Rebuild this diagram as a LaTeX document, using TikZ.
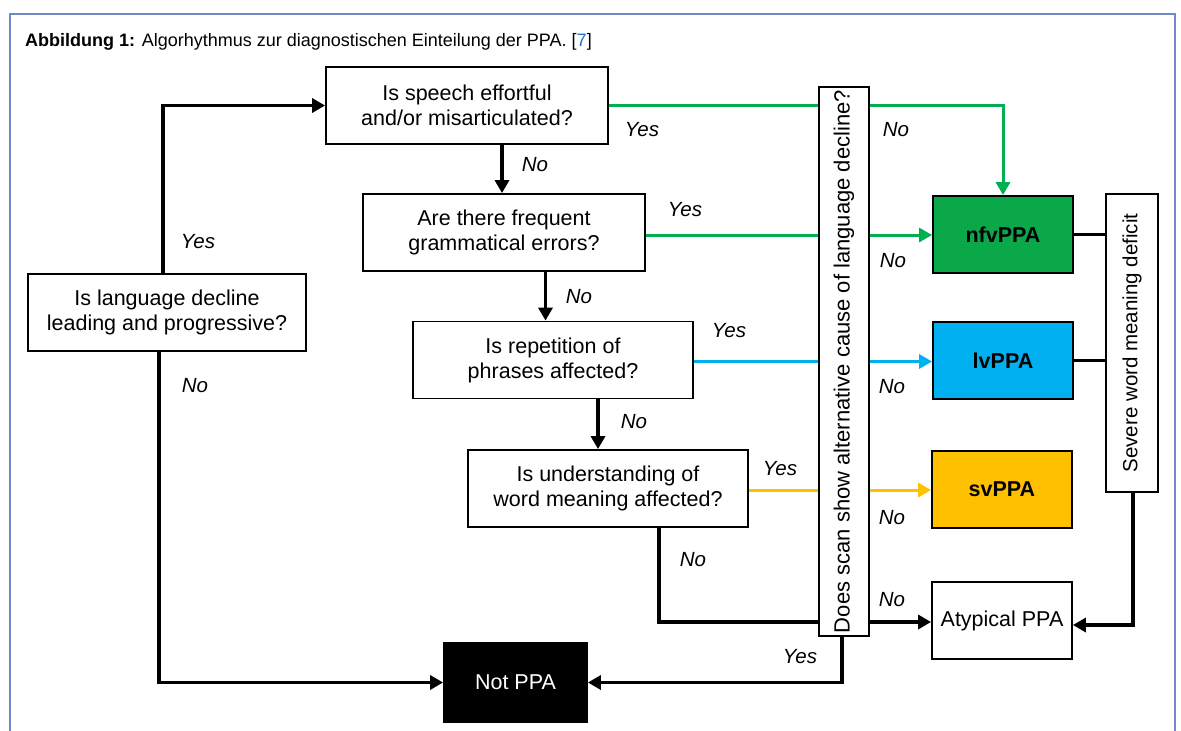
\documentclass[tikz,border=0pt]{standalone}
\usepackage{fontspec}
\setmainfont{Liberation Sans}
\usetikzlibrary{arrows.meta}
\definecolor{framecol}{HTML}{7289C9}
\definecolor{cgreen}{HTML}{00B050}
\definecolor{cgreenfill}{HTML}{0BA84A}
\definecolor{cblue}{HTML}{00B0F0}
\definecolor{cyellow}{HTML}{FFC000}
\definecolor{linkblue}{HTML}{1F6FD1}
\begin{document}
\begin{tikzpicture}[x=1pt,y=-1pt,
  box/.style={draw, line width=1.8pt, fill=white, inner sep=0pt, align=center,
    font=\fontsize{21.5}{25}\selectfont, minimum width=280pt, minimum height=77pt},
  res/.style={box, minimum width=140pt, minimum height=77pt},
  vbox/.style={draw, line width=1.8pt, fill=white, inner sep=0pt},
  lab/.style={font=\fontsize{20.5}{24}\selectfont\itshape, inner sep=0pt},
  blk/.style={line width=3.6pt, -{Triangle[length=13pt,width=14pt]}},
  blkline/.style={line width=3.6pt},
  col/.style={line width=3pt, -{Triangle[length=13pt,width=14pt]}},
  colline/.style={line width=3pt}
]
\useasboundingbox (0,0) rectangle (1181,731);
\draw[framecol, line width=1.3pt] (10,731) -- (10,14) -- (1175,14) -- (1175,731);
\node[anchor=base west, inner sep=0pt, font=\fontsize{18}{21}\selectfont] (cap) at (25,46)
  {\textbf{Abbildung 1:} Algorhythmus zur diagnostischen Einteilung der PPA. [\textcolor{linkblue}{7}]};

% question boxes
\node[box, minimum width=278pt] (q0) at (167,312.5) {Is language decline\\leading and progressive?};
\node[box, minimum width=282pt] (q1) at (467,105.5) {Is speech effortful\\and/or misarticulated?};
\node[box, minimum width=282pt] (q2) at (504,232.5) {Are there frequent\\grammatical errors?};
\node[box] (q3) at (553,360) {Is repetition of\\phrases affected?};
\node[box] (q4) at (608,488.5) {Is understanding of\\word meaning affected?};

% result boxes
\node[res, fill=cgreenfill, font=\fontsize{21.5}{25}\selectfont\bfseries] (nfv) at (1003,234.5) {nfvPPA};
\node[res, fill=cblue, font=\fontsize{21.5}{25}\selectfont\bfseries] (lv) at (1003,360.5) {lvPPA};
\node[res, fill=cyellow, font=\fontsize{21.5}{25}\selectfont\bfseries] (sv) at (1002,489.5) {svPPA};
\node[res] (atyp) at (1002,620.5) {Atypical PPA};
\node[res, minimum width=143pt, minimum height=79pt, fill=black, text=white] (notppa) at (515.5,682.5) {Not PPA};

% colored connectors (drawn before the scan box, which covers them)
\draw[col, cgreen] (q1.east |- 0,105.7) -| (nfv.north);
\draw[col, cgreen] (q2.east |- 0,235) -- (nfv.west |- 0,235);
\draw[col, cblue] (q3.east |- 0,361.5) -- (lv.west |- 0,361.5);
\draw[col, cyellow] (q4.east |- 0,490) -- (sv.west |- 0,490);
\draw[blk] (q4.south -| 659,0) |- (atyp.west |- 0,622);

% vertical boxes
\node[vbox, minimum width=50pt, minimum height=549pt, font=\fontsize{22}{25}\selectfont] (scan) at (844,361.5)
  {\rotatebox{90}{Does scan show alternative cause of language decline?}};
\node[vbox, minimum width=52pt, minimum height=298pt, font=\fontsize{20.5}{25}\selectfont] (sev) at (1132,343)
  {\rotatebox{90}{Severe word meaning deficit}};

% black connectors
\draw[blk] (q0.north -| 163,0) |- (q1.west);
\draw[blk] (q0.south -| 159,0) |- (notppa.west);
\draw[blk] (q1.south -| 502,0) -- (q2.north -| 502,0);
\draw[blk] (q2.south -| 545.5,0) -- (q3.north -| 545.5,0);
\draw[blk] (q3.south -| 598,0) -- (q4.north -| 598,0);
\draw[blk] (scan.south -| 842,0) |- (notppa.east);
\draw[blkline] (nfv.east) -- (sev.west |- nfv.east);
\draw[blkline] (lv.east) -- (sev.west |- lv.east);
\draw[blk] (sev.south -| 1133,0) |- (atyp.east |- 0,625);

% labels
\node[lab] (y1) at (642,130) {Yes};
\node[lab] (n1) at (896,130) {No};
\node[lab] (n1b) at (535,165) {No};
\node[lab] (y2) at (685,210) {Yes};
\node[lab] (n2) at (893,261) {No};
\node[lab] (n2b) at (579,297) {No};
\node[lab] (y3) at (729,331) {Yes};
\node[lab] (n3) at (892,387) {No};
\node[lab] (n3b) at (634,422) {No};
\node[lab] (y4) at (780,469) {Yes};
\node[lab] (n4) at (892,518) {No};
\node[lab] (n4b) at (693,560) {No};
\node[lab] (n5) at (892,600) {No};
\node[lab] (y5) at (800,657) {Yes};
\node[lab] (y0) at (198,242) {Yes};
\node[lab] (n0) at (195,386) {No};
\end{tikzpicture}
\end{document}
